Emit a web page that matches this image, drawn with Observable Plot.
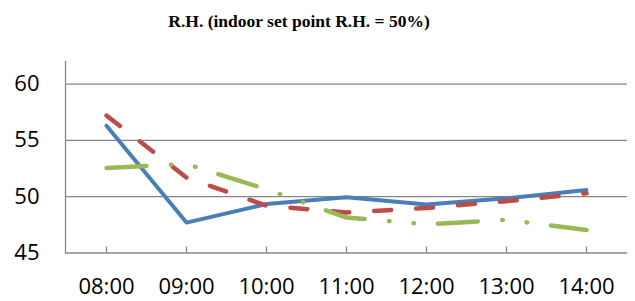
<!DOCTYPE html>
<html>
<head>
<meta charset="utf-8">
<script src="https://cdn.jsdelivr.net/npm/d3@7"></script>
<script src="https://cdn.jsdelivr.net/npm/@observablehq/plot@0.6"></script>
<style>
  html, body { margin: 0; padding: 0; background: #fff; }
  #wrap { width: 635px; height: 301px; overflow: hidden; }
  #title { width: 598px; padding-right: 37px; height: 40px; line-height: 42px; text-align: center;
           font-family: "Liberation Serif", "Times New Roman", serif; font-weight: bold; font-size: 17.5px; color: #000; }
</style>
</head>
<body>
<div id="wrap">
  <div id="title">R.H. (indoor set point R.H. = 50%)</div>
  <div id="chart"></div>
</div>
<script>
const times = ["08:00", "09:00", "10:00", "11:00", "12:00", "13:00", "14:00"];
const seriesNames = ["Series 1", "Series 2", "Series 3"];
const series1 = [56.3, 47.7, 49.35, 49.95, 49.3, 49.85, 50.6];
const series2 = [57.2, 51.7, 49.2, 48.6, 49.0, 49.6, 50.3];
const series3 = [52.55, 52.9, 50.65, 48.15, 47.55, 47.95, 47.05];
const yTicks = [45, 50, 55, 60];
const gridValues = [50, 55, 60];
const yDomain = [45, 62];

const toRows = (vals) => times.map((t, i) => ({time: t, value: vals[i]}));
const rows1 = toRows(series1);
const rows2 = toRows(series2);
const rows3 = toRows(series3);

const axisColor = "#868686";
const font = "'Open Sans', 'Liberation Sans', sans-serif";

const chart = Plot.plot({
  width: 635,
  height: 261,
  marginTop: 21,
  marginBottom: 48.5,
  marginLeft: 65,
  marginRight: 8,
  style: {fontFamily: font, color: "#000", background: "#fff"},
  x: {type: "point", domain: times, padding: 0.5},
  y: {domain: yDomain},
  marks: [
    Plot.ruleY(gridValues, {stroke: axisColor, strokeWidth: 1.3}),
    Plot.frame({anchor: "left", stroke: axisColor, strokeWidth: 1.3}),
    Plot.ruleY([yDomain[0]], {stroke: axisColor, strokeWidth: 1.3}),
    Plot.axisY({ticks: yTicks, tickSize: 0, tickPadding: 26, fontSize: 22, label: null}),
    Plot.axisX({tickSize: -6, tickPadding: 31, fontSize: 22, label: null, stroke: axisColor, strokeWidth: 1.3}),
    Plot.line(rows1, {x: "time", y: "value", stroke: "#4A7EBB", strokeWidth: 4, strokeLinejoin: "round", strokeLinecap: "round"}),
    Plot.line(rows2, {x: "time", y: "value", stroke: "#BE4B48", strokeWidth: 4.5, strokeLinejoin: "round", strokeLinecap: "round", strokeDasharray: "17,25"}),
    Plot.line(rows3, {x: "time", y: "value", stroke: "#98B954", strokeWidth: 4.5, strokeLinejoin: "round", strokeLinecap: "round", strokeDasharray: "40,24.5,0.5,24,0.5,24"})
  ]
});
document.getElementById("chart").appendChild(chart);
</script>
</body>
</html>
